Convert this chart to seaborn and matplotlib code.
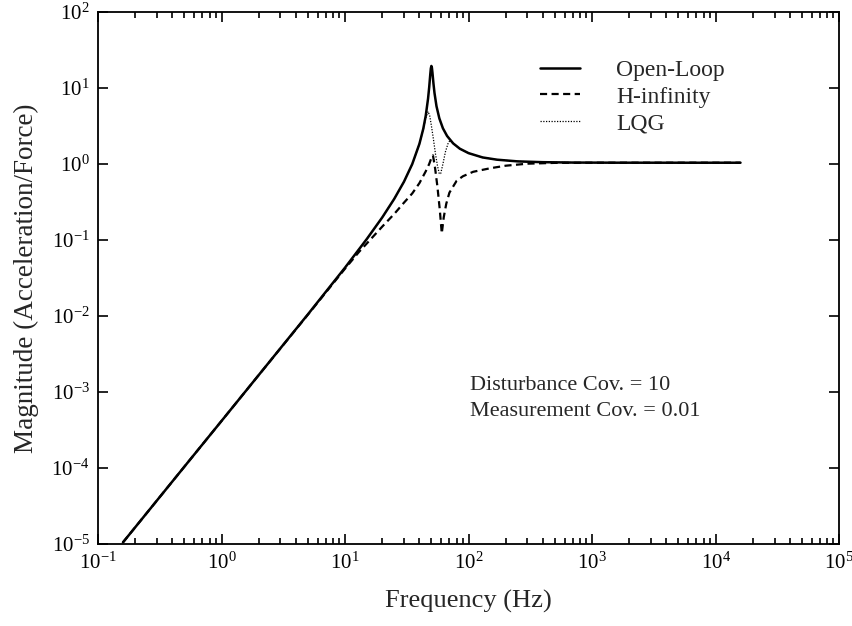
import matplotlib
matplotlib.use("Agg")
import matplotlib.pyplot as plt
import seaborn as sns
import pandas as pd
from matplotlib.ticker import FixedLocator, NullLocator, FixedFormatter, NullFormatter

# ---- data (frequency in Hz, magnitude) ----
freq_open = [0.1592, 0.5, 1, 2, 5, 10, 15, 20, 25, 30, 35, 40, 43, 45, 47, 48, 49,
             49.5, 50, 50.5, 51, 52, 53, 55, 58, 62, 67, 75, 85, 100, 130, 170,
             250, 400, 700, 1500, 5000, 15915]
mag_open = [1.05e-5, 1.04e-4, 4.16e-4, 1.67e-3, 0.0105, 0.0433, 0.103, 0.198, 0.347,
            0.585, 0.998, 1.84, 2.91, 4.30, 7.25, 10.2, 15.2, 18.1, 19.5, 18.5, 16.0,
            11.4, 8.6, 5.77, 3.99, 2.95, 2.34, 1.87, 1.59, 1.39, 1.22, 1.14, 1.083,
            1.057, 1.045, 1.041, 1.04, 1.04]

freq_hinf = [0.1592, 0.5, 1, 2, 5, 10, 13, 15, 20, 25, 30, 35, 40, 45, 48, 50, 51.5,
             53.5, 56, 58.5, 60.7, 63, 66, 70, 80, 90, 109, 150, 200, 300, 500, 1000,
             15915]
mag_hinf = [1.05e-5, 1.04e-4, 4.16e-4, 1.67e-3, 0.0104, 0.042, 0.07, 0.09, 0.15, 0.22,
            0.31, 0.41, 0.56, 0.80, 1.0, 1.2, 1.3, 0.9, 0.5, 0.25, 0.122, 0.2, 0.3,
            0.42, 0.6, 0.69, 0.79, 0.88, 0.95, 1.01, 1.035, 1.04, 1.04]

freq_lqg = [0.1592, 0.5, 1, 2, 5, 10, 15, 20, 25, 30, 35, 40, 43, 45, 47, 48.5, 50,
            52, 54, 56, 58, 59.5, 62, 65, 68.5, 71, 75, 85, 100, 130, 170, 250, 400,
            700, 1500, 5000, 15915]
mag_lqg = [1.05e-5, 1.04e-4, 4.16e-4, 1.67e-3, 0.0105, 0.0433, 0.103, 0.198, 0.347,
           0.585, 0.998, 1.84, 2.85, 4.0, 4.9, 4.3, 3.2, 2.1, 1.35, 0.95, 0.74, 0.75,
           1.0, 1.45, 1.9, 2.05, 1.87, 1.59, 1.39, 1.22, 1.14, 1.083, 1.057, 1.045,
           1.041, 1.04, 1.04]

series_names = ["Open-Loop", "H-infinity", "LQG"]
x_tick_exponents = [-1, 0, 1, 2, 3, 4, 5]
y_tick_exponents = [-5, -4, -3, -2, -1, 0, 1, 2]
annot_lines = ["Disturbance Cov. = 10", "Measurement Cov. = 0.01"]
x_label = "Frequency (Hz)"
y_label = "Magnitude (Acceleration/Force)"

# ---- style ----
sns.set_style("ticks")
plt.rcParams["font.family"] = ["Liberation Serif", "DejaVu Serif"]
plt.rcParams["mathtext.fontset"] = "custom"
plt.rcParams["mathtext.rm"] = "Liberation Serif"
plt.rcParams["mathtext.it"] = "Liberation Serif:italic"
plt.rcParams["mathtext.bf"] = "Liberation Serif:bold"

fig = plt.figure(figsize=(8.53, 6.26), dpi=100)
ax = fig.add_axes([0.1149, 0.131, 0.8688, 0.8498])

df_open = pd.DataFrame({"f": freq_open, "m": mag_open})
df_hinf = pd.DataFrame({"f": freq_hinf, "m": mag_hinf})
df_lqg = pd.DataFrame({"f": freq_lqg, "m": mag_lqg})

sns.lineplot(data=df_open, x="f", y="m", ax=ax, color="black", lw=1.8,
             label=series_names[0], estimator=None, sort=False)
sns.lineplot(data=df_hinf, x="f", y="m", ax=ax, color="black", lw=1.6,
             label=series_names[1], estimator=None, sort=False)
ax.lines[-1].set_dashes([3.2, 2.0])
sns.lineplot(data=df_lqg, x="f", y="m", ax=ax, color="black", lw=0.9,
             label=series_names[2], estimator=None, sort=False)
ax.lines[-1].set_dashes([1.0, 1.2])

ax.set_xscale("log")
ax.set_yscale("log")
ax.set_xlim(10.0 ** x_tick_exponents[0], 10.0 ** x_tick_exponents[-1])
ax.set_ylim(10.0 ** y_tick_exponents[0], 10.0 ** y_tick_exponents[-1])

x_major = [10.0 ** e for e in x_tick_exponents]
x_minor = [m * 10.0 ** e for e in x_tick_exponents[:-1] for m in range(2, 10)]
y_major = [10.0 ** e for e in y_tick_exponents]

ax.xaxis.set_major_locator(FixedLocator(x_major))
ax.xaxis.set_major_formatter(FixedFormatter(
    [r"$\mathregular{10^{%d}}$" % e for e in x_tick_exponents]))
ax.xaxis.set_minor_locator(FixedLocator(x_minor))
ax.xaxis.set_minor_formatter(NullFormatter())
ax.yaxis.set_major_locator(FixedLocator(y_major))
ax.yaxis.set_major_formatter(FixedFormatter(
    [r"$\mathregular{10^{%d}}$" % e for e in y_tick_exponents]))
ax.yaxis.set_minor_locator(NullLocator())

ax.tick_params(which="both", direction="in", top=True, right=True, colors="black",
               labelsize=15, width=1.2)
ax.tick_params(which="major", length=7, pad=6)
ax.tick_params(which="minor", length=4)
for s in ax.spines.values():
    s.set_linewidth(1.3)
    s.set_color("black")

ax.set_xlabel(x_label, fontsize=19, labelpad=12)
ax.set_ylabel(y_label, fontsize=19.5, labelpad=9)

ax.legend(loc="upper left", bbox_to_anchor=(0.596, 0.911), frameon=False,
          fontsize=17, handlelength=1.7, handletextpad=1.55, labelspacing=0.22,
          borderpad=0, borderaxespad=0)

ax.text(0.502, 0.297, annot_lines[0], transform=ax.transAxes, fontsize=16, va="center")
ax.text(0.502, 0.250, annot_lines[1], transform=ax.transAxes, fontsize=16, va="center")

fig.savefig("out.png", dpi=100)
